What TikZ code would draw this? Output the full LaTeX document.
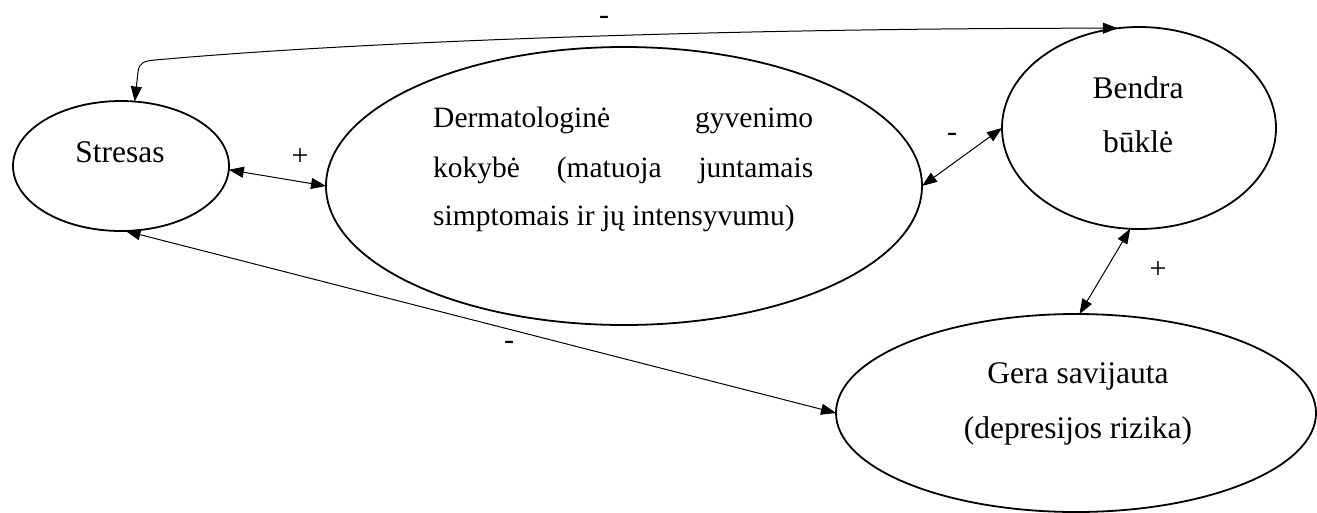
\documentclass[tikz,border=0pt]{standalone}
\usepackage{fontspec}
\setmainfont{Liberation Serif}
\usetikzlibrary{arrows.meta,shapes.geometric}
\begin{document}
\begin{tikzpicture}[x=1pt,y=-1pt,
  bubble/.style={draw, ellipse, line width=1.8pt, inner sep=0pt, outer sep=0pt},
  link/.style={{Triangle[length=15pt,width=11pt]}-{Triangle[length=15pt,width=11pt]}, line width=1pt},
  txt/.style={font=\fontsize{31.5}{38}\selectfont, inner sep=0pt},
  bodytxt/.style={font=\fontsize{29.5}{36}\selectfont, inner sep=0pt, anchor=base west},
  sign/.style={font=\fontsize{30}{36}\selectfont, inner sep=0pt}]
\useasboundingbox (0,0) rectangle (1317,512);

% ellipses
\node[bubble, minimum width=216pt, minimum height=130pt] (stresas) at (121,166) {};
\node[bubble, minimum width=596pt, minimum height=278pt] (big) at (624,186) {};
\node[bubble, minimum width=274pt, minimum height=202pt] (bendra) at (1139,128) {};
\node[bubble, minimum width=480pt, minimum height=198pt] (gera) at (1076,413) {};

% texts
\node[txt, anchor=base] (tStresas) at (120,162) {Stresas};
\node[bodytxt] (tDerm1) at (433,127) {\makebox[380pt][s]{Dermatologinė gyvenimo}};
\node[bodytxt] (tDerm2) at (433,177) {\makebox[380pt][s]{kokybė (matuoja juntamais}};
\node[bodytxt] (tDerm3) at (433,225) {simptomais ir jų intensyvumu)};
\node[txt, anchor=base] (tBendra1) at (1138,98) {Bendra};
\node[txt, anchor=base] (tBendra2) at (1138,152) {būklė};
\node[txt, anchor=base] (tGera1) at (1078,383) {Gera savijauta};
\node[txt, anchor=base] (tGera2) at (1078,438) {(depresijos rizika)};

% connectors
\coordinate (bend) at (138,72);
\draw[link] (stresas.78) -- (bend) .. controls (139,62) and (145,61) .. (155,60)
  .. controls (400,38) and (800,28) .. (bendra.102);
\draw[link] (stresas.-2) -- (big.west);
\draw[link] (big.east) -- (bendra.west);
\draw[link] (bendra.265) -- (gera.88);
\draw[link] (stresas.274) -- (gera.west);

% signs
\node[sign] (sTop) at (604,20) {-};
\node[sign] (sPlus1) at (300,157) {+};
\node[sign] (sMinus1) at (952,137) {-};
\node[sign] (sPlus2) at (1158,270) {+};
\node[sign] (sMinus2) at (509,345) {-};
\end{tikzpicture}
\end{document}
